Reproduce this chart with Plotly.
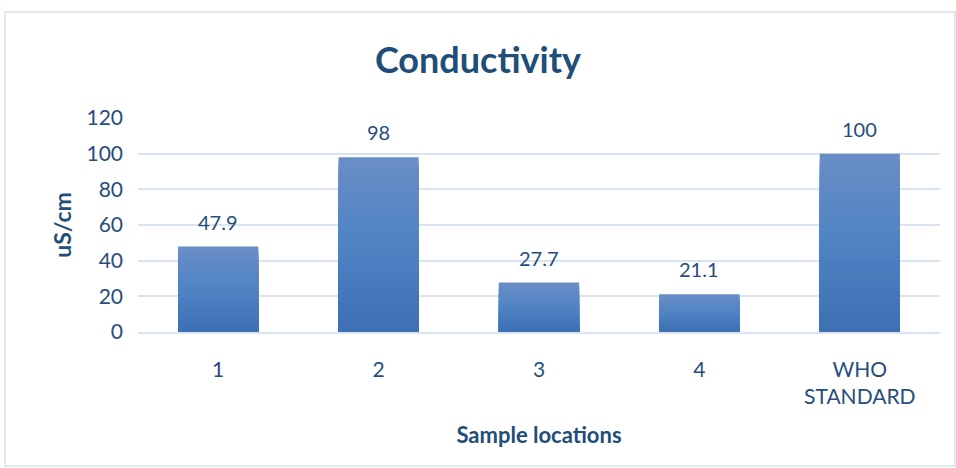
import plotly.graph_objects as go

categories = ["1", "2", "3", "4", "WHO<br>STANDARD"]
values = [47.9, 98, 27.7, 21.1, 100]
value_labels = ["47.9", "98", "27.7", "21.1", "100"]
y_ticks = [0, 20, 40, 60, 80, 100, 120]

TXT = "#264d7e"
TITLE = "#1f4e79"
FONT = "Lato"

# vertical gradient of the bars (bottom, middle, top)
grad_stops = [(0.0, (61, 111, 178)), (0.5, (79, 131, 196)), (1.0, (106, 142, 198))]


def grad_color(f):
    for (f0, c0), (f1, c1) in zip(grad_stops[:-1], grad_stops[1:]):
        if f0 <= f <= f1:
            t = (f - f0) / (f1 - f0)
            return "rgb(%d,%d,%d)" % tuple(round(a + (b - a) * t) for a, b in zip(c0, c1))
    return "rgb(%d,%d,%d)" % grad_stops[-1][1]


fig = go.Figure()
N = 30
xs = list(range(len(categories)))
for k in range(N, 0, -1):
    f = k / N
    fig.add_trace(go.Bar(
        x=xs, y=[v * f for v in values],
        marker=dict(color=grad_color(f - 0.5 / N), line=dict(width=0)),
        hoverinfo="skip",
    ))

for i, (v, t) in enumerate(zip(values, value_labels)):
    fig.add_annotation(x=i, y=v, text=t, showarrow=False, yanchor="bottom",
                       yshift=11, font=dict(family=FONT, size=20, color=TXT))

# chart border
fig.add_shape(type="rect", xref="paper", yref="paper",
              x0=-0.1658, x1=1.0185, y0=-0.626, y1=1.495,
              line=dict(color="#d5e1f1", width=1.5), fillcolor="rgba(0,0,0,0)")

fig.update_layout(
    width=956, height=468,
    margin=dict(l=138, r=16, t=118, b=136),
    paper_bgcolor="white", plot_bgcolor="white",
    barmode="overlay", bargap=0.5, showlegend=False,
    title=dict(text="<b>Conductivity</b>", x=0.5, xanchor="center",
               y=1 - 60 / 468, yref="container", yanchor="middle",
               font=dict(family=FONT, size=36, color=TITLE)),
    font=dict(family=FONT, color=TXT),
)
fig.update_yaxes(range=[0, 120], tickvals=y_ticks, showgrid=True,
                 gridcolor="#d9e3f1", gridwidth=1.5, zeroline=False,
                 showline=False, ticks="", ticklabelstandoff=14,
                 tickfont=dict(family=FONT, size=21, color=TXT),
                 title=dict(text="<b>uS/cm</b>", standoff=8,
                            font=dict(family=FONT, size=23, color=TITLE)))
fig.update_xaxes(range=[-0.5, 4.5], tickvals=xs, ticktext=categories,
                 showline=True, linecolor="#d9e3f1", linewidth=1.5,
                 ticks="", ticklabelstandoff=18,
                 tickfont=dict(family=FONT, size=21, color=TXT),
                 title=dict(text="<b>Sample locations</b>", standoff=20,
                            font=dict(family=FONT, size=22, color=TITLE)))

fig.write_html("out.html", config={"displayModeBar": False},
               post_script="document.body.style.margin='0';")
